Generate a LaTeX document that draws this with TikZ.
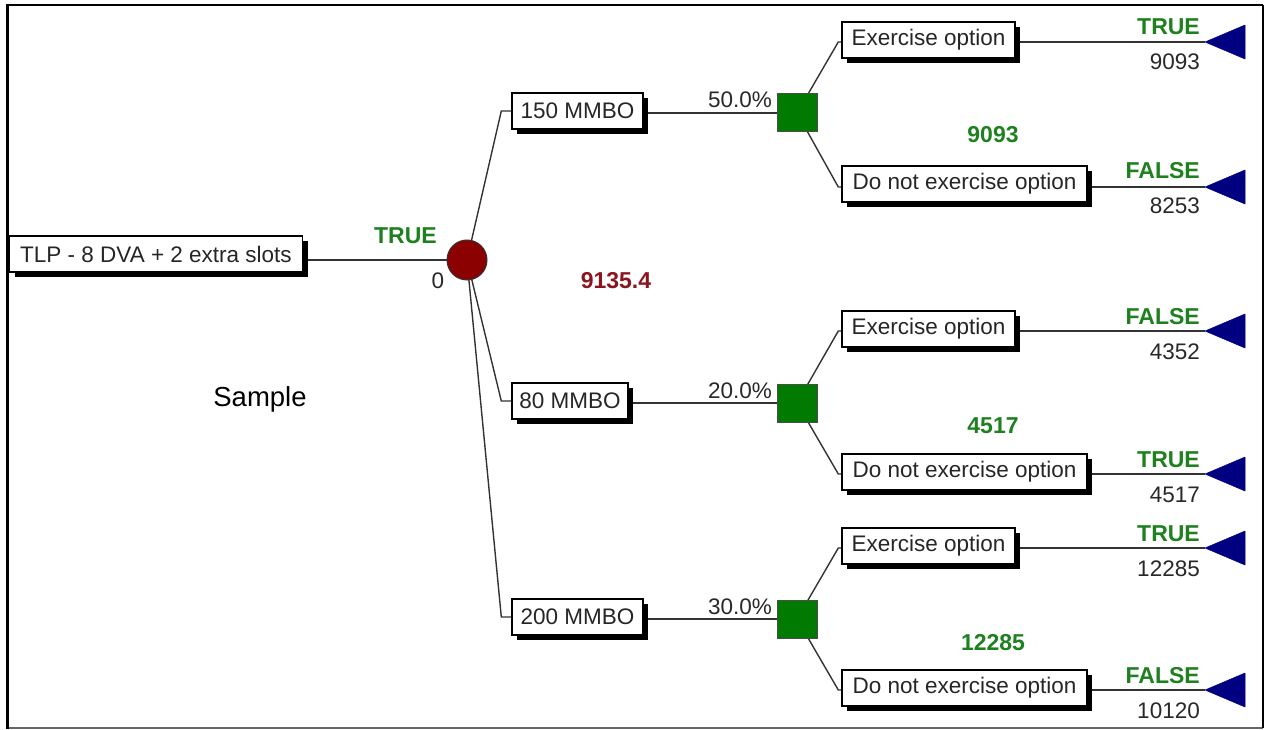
\documentclass[tikz,border=0pt]{standalone}
\usepackage{fontspec}
\setmainfont{Liberation Sans}
\usetikzlibrary{shadows,backgrounds}

\definecolor{decgreen}{RGB}{0,122,0}
\definecolor{lblgreen}{RGB}{30,128,30}
\definecolor{chancered}{RGB}{139,0,0}
\definecolor{valred}{RGB}{140,20,30}
\definecolor{endnavy}{RGB}{0,0,128}
\definecolor{numgray}{RGB}{40,40,40}

\tikzset{
  lbl/.style={font=\fontsize{22.5}{27}\selectfont, inner sep=0pt, text=numgray},
  boolbl/.style={font=\fontsize{23}{27}\selectfont\bfseries, inner sep=0pt, text=lblgreen},
  branchbox/.style={draw=black, line width=1.4pt, fill=white, minimum height=36pt,
    inner sep=0pt, font=\fontsize{22.5}{27}\selectfont, text=black!85,
    general shadow={fill=black, shadow xshift=5pt, shadow yshift=-5pt}},
  chancenode/.style={circle, draw=black!80, line width=1pt, fill=chancered,
    minimum size=40pt, inner sep=0pt},
  decnode/.style={rectangle, draw=black!70, line width=1pt, fill=decgreen,
    minimum width=40pt, minimum height=38pt, inner sep=0pt},
  wire/.style={line width=1.4pt, draw=black!80},
  endtip/.style={fill=endnavy, draw=endnavy, line width=0.5pt, line join=round},
}

\begin{document}
\begin{tikzpicture}[x=1pt,y=-1pt]
\useasboundingbox (0,0) rectangle (1267,730);

% outer frame
\draw[line width=1.6pt, black] (1263,5) -- (7,5);
\draw[line width=1.6pt, black!60] (7,728) -- (1263,728);
\draw[line width=1.4pt, black] (1263,5) -- (1263,728);
\draw[line width=3pt, black] (7,4) -- (7,729);

% root decision and chance node
\node[branchbox, minimum width=293pt, anchor=center] (root) at (156,254) {TLP - 8 DVA + 2 extra slots};
\node[chancenode] (ch) at (467,260) {};
\node[boolbl, anchor=base east] (rtrue) at (437,244) {TRUE};
\node[lbl, anchor=base] (rzero) at (438,289) {0};
\node[font=\fontsize{23}{27}\selectfont\bfseries, text=valred, inner sep=0pt] (ev) at (616,281) {9135.4};
\node[font=\fontsize{27.5}{32}\selectfont, text=black, inner sep=0pt] (smp) at (260,399) {Sample};

% second-level branches
\node[branchbox, minimum width=131pt] (b1) at (577.5,111) {150 MMBO};
\node[branchbox, minimum width=116pt] (b2) at (570,401) {80 MMBO};
\node[branchbox, minimum width=131pt] (b3) at (577.5,617) {200 MMBO};

\node[decnode] (d1) at (797,113) {};
\node[decnode] (d2) at (797,403) {};
\node[decnode] (d3) at (797,619) {};

\node[lbl, anchor=base east] (p1) at (772,108) {50.0\%};
\node[lbl, anchor=base east] (p2) at (772,398) {20.0\%};
\node[lbl, anchor=base east] (p3) at (772,614) {30.0\%};

% third-level boxes
\node[branchbox, minimum width=173pt] (e1) at (928.5,40) {Exercise option};
\node[branchbox, minimum width=245pt] (n1) at (964.5,184) {Do not exercise option};
\node[branchbox, minimum width=173pt] (e2) at (928.5,329) {Exercise option};
\node[branchbox, minimum width=245pt] (n2) at (964.5,472) {Do not exercise option};
\node[branchbox, minimum width=173pt] (e3) at (928.5,546) {Exercise option};
\node[branchbox, minimum width=245pt] (n3) at (964.5,688) {Do not exercise option};

% terminal tips
\coordinate (t1) at (1205,42);
\coordinate (t2) at (1205,187);
\coordinate (t3) at (1205,331);
\coordinate (t4) at (1205,474);
\coordinate (t5) at (1205,548);
\coordinate (t6) at (1205,690);
\foreach \t in {t1,t2,t3,t4,t5,t6}
  \fill[endtip] (\t) -- ++(40,-17) -- ++(0,34) -- cycle;

% terminal labels
\node[boolbl, anchor=base east] (l1) at (1200,35) {TRUE};
\node[lbl, anchor=base east] (v1) at (1200,70) {9093};
\node[boolbl, anchor=base east] (l2) at (1200,179) {FALSE};
\node[lbl, anchor=base east] (v2) at (1200,214) {8253};
\node[boolbl, anchor=base east] (l3) at (1200,324) {FALSE};
\node[lbl, anchor=base east] (v3) at (1200,359) {4352};
\node[boolbl, anchor=base east] (l4) at (1200,467) {TRUE};
\node[lbl, anchor=base east] (v4) at (1200,502) {4517};
\node[boolbl, anchor=base east] (l5) at (1200,541) {TRUE};
\node[lbl, anchor=base east] (v5) at (1200,576) {12285};
\node[boolbl, anchor=base east] (l6) at (1200,683) {FALSE};
\node[lbl, anchor=base east] (v6) at (1200,718) {10120};

% expected values of the decision nodes
\node[boolbl] (ev1) at (993,135) {9093};
\node[boolbl] (ev2) at (993,426) {4517};
\node[boolbl] (ev3) at (993,643) {12285};

% connectors
\begin{scope}[on background layer]
  \draw[wire] (ch -| root.east) -- (ch.center);
  \foreach \b in {b1,b2,b3}
    \draw[wire] (ch.center) -- ([xshift=-10pt]\b.west |- \b.center) -- (\b.west);
  \draw[wire] (d1 -| b1.east) -- (d1.center);
  \draw[wire] (d2 -| b2.east) -- (d2.center);
  \draw[wire] (d3 -| b3.east) -- (d3.center);
  \draw[wire] (d1.center) -- ([xshift=-3pt]e1.west |- t1) -- (e1.west |- t1);
  \draw[wire] (d1.center) -- ([xshift=-3pt]n1.west |- t2) -- (n1.west |- t2);
  \draw[wire] (d2.center) -- ([xshift=-3pt]e2.west |- t3) -- (e2.west |- t3);
  \draw[wire] (d2.center) -- ([xshift=-3pt]n2.west |- t4) -- (n2.west |- t4);
  \draw[wire] (d3.center) -- ([xshift=-3pt]e3.west |- t5) -- (e3.west |- t5);
  \draw[wire] (d3.center) -- ([xshift=-3pt]n3.west |- t6) -- (n3.west |- t6);
  \draw[wire] (e1.east |- t1) -- (t1);
  \draw[wire] (n1.east |- t2) -- (t2);
  \draw[wire] (e2.east |- t3) -- (t3);
  \draw[wire] (n2.east |- t4) -- (t4);
  \draw[wire] (e3.east |- t5) -- (t5);
  \draw[wire] (n3.east |- t6) -- (t6);
\end{scope}
\end{tikzpicture}
\end{document}
